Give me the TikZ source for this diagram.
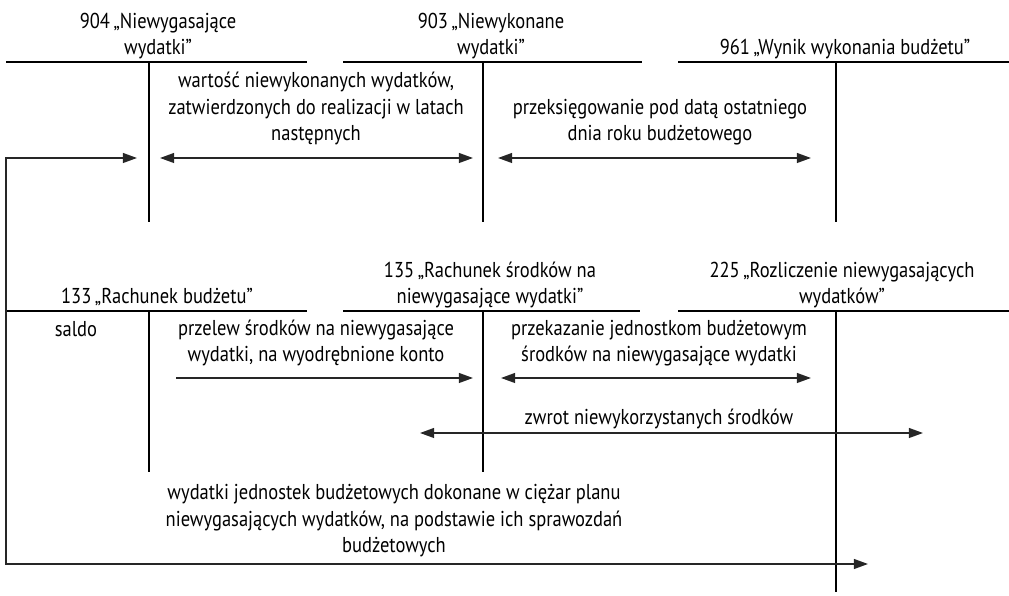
\documentclass[tikz,border=0pt]{standalone}
\usepackage{fontspec}
\setmainfont[FakeStretch=0.86]{PT Sans}
\usetikzlibrary{arrows.meta}

\begin{document}
\begin{tikzpicture}[x=0.025cm, y=-0.025cm,
    konto/.style={line width=1.1pt},
    strz/.style={line width=1.1pt, black!85, -{Triangle[length=10pt,width=7pt]}},
    dwustrz/.style={line width=1.1pt, black!85, {Triangle[length=10pt,width=7pt]}-{Triangle[length=10pt,width=7pt]}},
    opis/.style={align=center, inner sep=0pt, anchor=base, font=\fontsize{15.3}{19}\selectfont}]
  \useasboundingbox (0,0) rectangle (1009,596);
  % konta 904, 903, 961
  \coordinate (A1) at (6,62);   \coordinate (A2) at (307,62);
  \coordinate (A3) at (149,62); \coordinate (A4) at (149,222);
  \coordinate (B1) at (343,62); \coordinate (B2) at (642,62);
  \coordinate (B3) at (483,62); \coordinate (B4) at (483,222);
  \coordinate (C1) at (678,62); \coordinate (C2) at (1009,62);
  \coordinate (C3) at (836,62); \coordinate (C4) at (836,222);
  \draw[konto] (A1) -- (A2) (A3) -- (A4);
  \draw[konto] (B1) -- (B2) (B3) -- (B4);
  \draw[konto] (C1) -- (C2) (C3) -- (C4);
  \node[opis] (tA) at (158,55) {904\,„Niewygasające\\ wydatki”};
  \node[opis] (tB) at (491,55) {903\,„Niewykonane\\ wydatki”};
  \node[opis] (tC) at (845,55) {961\,„Wynik wykonania budżetu”};
  % konta 133, 135, 225
  \coordinate (D1) at (6,311);   \coordinate (D2) at (307,311);
  \coordinate (D3) at (149,311); \coordinate (D4) at (149,472);
  \coordinate (E1) at (343,311); \coordinate (E2) at (640,311);
  \coordinate (E3) at (483,311); \coordinate (E4) at (483,472);
  \coordinate (F1) at (678,311); \coordinate (F2) at (1009,311);
  \coordinate (F3) at (836,311); \coordinate (F4) at (836,592);
  \draw[konto] (D1) -- (D2) (D3) -- (D4);
  \draw[konto] (E1) -- (E2) (E3) -- (E4);
  \draw[konto] (F1) -- (F2) (F3) -- (F4);
  \node[opis] (tD) at (157,304) {133\,„Rachunek budżetu”};
  \node[opis] (tE) at (490,304) {135\,„Rachunek środków na\\ niewygasające wydatki”};
  \node[opis] (tF) at (842,304) {225\,„Rozliczenie niewygasających\\ wydatków”};
  \node[opis] (saldo) at (76,337) {saldo};
  % operacje
  \node[opis] (op1) at (316,141) {wartość niewykonanych wydatków,\\ zatwierdzonych do realizacji w latach\\ następnych};
  \node[opis] (op2) at (660,141) {przeksięgowanie pod datą ostatniego\\ dnia roku budżetowego};
  \node[opis] (op3) at (316,362) {przelew środków na niewygasające\\ wydatki, na wyodrębnione konto};
  \node[opis] (op4) at (659,362) {przekazanie jednostkom budżetowym\\ środków na niewygasające wydatki};
  \node[opis] (op5) at (659,425) {zwrot niewykorzystanych środków};
  \node[opis] (op6) at (394,553) {wydatki jednostek budżetowych dokonane w ciężar planu\\ niewygasających wydatków, na podstawie ich sprawozdań\\ budżetowych};
  \coordinate (p1) at (137,158); \coordinate (p2) at (6,158);
  \coordinate (p3) at (6,564);   \coordinate (p4) at (868,564);
  \coordinate (q1) at (160,158); \coordinate (q2) at (473,158);
  \coordinate (q3) at (498,158); \coordinate (q4) at (811,158);
  \coordinate (r1) at (176,378); \coordinate (r2) at (473,378);
  \coordinate (r3) at (501,378); \coordinate (r4) at (811,378);
  \coordinate (s1) at (420,433); \coordinate (s2) at (923,433);
  \draw[dwustrz] (p1) -- (p2) -- (p3) -- (p4);
  \draw[dwustrz] (q1) -- (q2);
  \draw[dwustrz] (q3) -- (q4);
  \draw[strz] (r1) -- (r2);
  \draw[dwustrz] (r3) -- (r4);
  \draw[dwustrz] (s1) -- (s2);
\end{tikzpicture}
\end{document}
